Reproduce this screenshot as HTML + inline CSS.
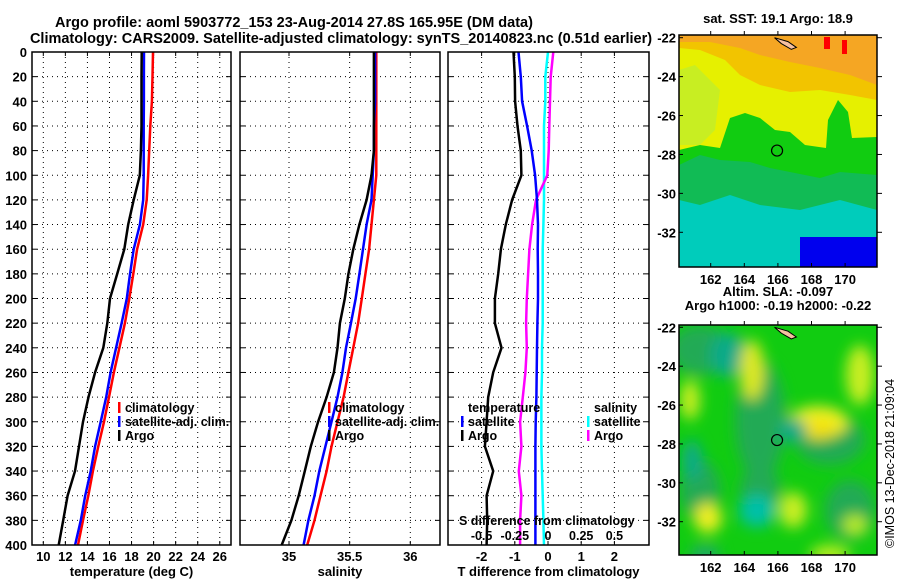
<!DOCTYPE html>
<html><head><meta charset="utf-8">
<style>
body{margin:0;background:#fff;}
svg{display:block;font-family:"Liberation Sans",Arial,sans-serif;font-weight:bold;}
</style></head>
<body>
<svg id="chart" width="900" height="580" viewBox="0 0 900 580" xmlns="http://www.w3.org/2000/svg">
<rect width="900" height="580" fill="#fff"/>
<text x="294" y="27" font-size="14.5" text-anchor="middle">Argo profile: aoml 5903772_153 23-Aug-2014 27.8S 165.95E (DM data)</text>
<text x="341" y="43" font-size="14.5" text-anchor="middle">Climatology: CARS2009. Satellite-adjusted climatology: synTS_20140823.nc (0.51d earlier)</text>
<g id="panels"></g>
<g id="maps"></g>
<text transform="translate(894,548) rotate(-90)" font-size="12.5" font-weight="normal">©IMOS 13-Dec-2018 21:09:04</text>
</svg>
<script>
const depths=[0,20,40,60,80,100,120,140,160,180,200,220,240,260,280,300,320,340,360,380,400];
const tempClim=[19.95,19.9,19.85,19.7,19.6,19.5,19.37,19.06,18.5,18.16,17.8,17.4,16.9,16.4,15.96,15.5,14.99,14.5,14.08,13.6,13.15];
const tempSat=[19.13,19.12,19.12,19.1,19.1,19.1,19.06,18.76,18.2,17.86,17.57,17.1,16.6,16.1,15.7,15.2,14.7,14.3,13.8,13.4,12.88];
const tempArgo=[18.92,18.9,18.9,18.9,18.85,18.75,18.2,17.7,17.34,16.7,16.05,15.8,15.44,14.7,14.1,13.6,13.24,12.87,12.2,11.8,11.4];
const salClim=[35.72,35.72,35.72,35.72,35.72,35.72,35.70,35.68,35.66,35.63,35.60,35.57,35.53,35.49,35.45,35.40,35.35,35.31,35.26,35.21,35.15];
const salSat=[35.71,35.71,35.71,35.70,35.70,35.69,35.68,35.64,35.61,35.58,35.55,35.51,35.47,35.44,35.40,35.35,35.30,35.25,35.21,35.16,35.12];
const salArgo=[35.70,35.70,35.70,35.70,35.70,35.68,35.64,35.58,35.53,35.49,35.46,35.42,35.40,35.37,35.31,35.24,35.18,35.13,35.08,35.02,34.94];
const dTsat=[-0.89,-0.82,-0.78,-0.63,-0.49,-0.39,-0.33,-0.3,-0.31,-0.3,-0.3,-0.32,-0.33,-0.34,-0.35,-0.37,-0.38,-0.38,-0.38,-0.38,-0.38];
const dTargo=[-1.04,-1.0,-0.99,-0.92,-0.82,-0.8,-1.08,-1.27,-1.42,-1.5,-1.6,-1.6,-1.4,-1.65,-1.8,-1.85,-1.9,-1.65,-1.85,-1.83,-1.85];
const dSsat=[0.0,-0.02,-0.02,-0.03,-0.03,-0.03,-0.03,-0.035,-0.04,-0.04,-0.04,-0.04,-0.045,-0.045,-0.05,-0.05,-0.05,-0.045,-0.04,-0.035,-0.03];
const dSargo=[0.04,0.02,0.015,0.01,0.005,-0.005,-0.09,-0.12,-0.14,-0.15,-0.16,-0.165,-0.16,-0.17,-0.19,-0.21,-0.2,-0.22,-0.2,-0.21,-0.21];
const depthTicks=[0,20,40,60,80,100,120,140,160,180,200,220,240,260,280,300,320,340,360,380,400];
const tempTicks=[10,12,14,16,18,20,22,24,26];
const salTicks=[35,35.5,36];
const salTickLabels=["35","35.5","36"];
const dTTicks=[-2,-1,0,1,2];
const dSTicks=[-0.5,-0.25,0,0.25,0.5];
const dSTickLabels=["-0.5","-0.25","0","0.25","0.5"];
const latTicks=[-22,-24,-26,-28,-30,-32];
const lonTicks=[162,164,166,168,170];

const NS="http://www.w3.org/2000/svg";
function mk(tag,attrs,parent){const e=document.createElementNS(NS,tag);for(const k in attrs)e.setAttribute(k,attrs[k]);parent.appendChild(e);return e;}
const top0=52,bot0=545;
const yD=d=>top0+(d/400)*(bot0-top0);
const panels=document.getElementById('panels');

function panel(name,x0,x1,xs,ticks,labels,title,series,showY){
  const g=mk('g',{},panels);
  
  
  ticks.forEach(t=>{const x=xs(t);
    const l=mk('line',{x1:x,x2:x,y1:top0,y2:bot0,stroke:'#000','stroke-width':1,'stroke-dasharray':'1,4'},g);
    
    
    mk('line',{x1:x,x2:x,y1:bot0,y2:bot0-4,stroke:'#000'},g);
    mk('line',{x1:x,x2:x,y1:top0,y2:top0+4,stroke:'#000'},g);
  });
  depthTicks.forEach(d=>{const y=yD(d);
    if(d>0&&d<400){const l=mk('line',{x1:x0,x2:x1,y1:y,y2:y,stroke:'#000','stroke-width':1,'stroke-dasharray':'1,4'},g);
    
    }
    mk('line',{x1:x0,x2:x0+5,y1:y,y2:y,stroke:'#000'},g);
    mk('line',{x1:x1,x2:x1-5,y1:y,y2:y,stroke:'#000'},g);
    if(showY){const t=mk('text',{x:27,y:y+5,'font-size':13,'text-anchor':'end'},g);t.textContent=d;
      
      }
  });
  series.forEach(s=>{
    const pts=depths.map((d,i)=>xs(s.v[i]).toFixed(1)+','+yD(d).toFixed(1)).join(' ');
    const p=mk('polyline',{points:pts,fill:'none',stroke:s.c,'stroke-width':2.5},g);
    
    
  });
  mk('rect',{x:x0,y:top0,width:x1-x0,height:bot0-top0,fill:'none',stroke:'#000','stroke-width':1.5},g);
  ticks.forEach((t,i)=>{const tx=mk('text',{x:xs(t),y:561,'font-size':13,'text-anchor':'middle'},g);tx.textContent=labels[i];
    
    });
  const tt=mk('text',{x:(x0+x1)/2,y:576,'font-size':13,'text-anchor':'middle'},g);tt.textContent=title;
  
  
  return g;
}
const xT=t=>43.3+(t-10)*11.03;
const xS=s=>289+(s-35)*121.3;
const xdT=t=>548+t*33.2;
const xdS=s=>548+s*132.8;
panel('temperature-panel',32,231,xT,tempTicks,tempTicks.map(String),'temperature (deg C)',
  [{v:tempClim,c:'#f00',n:'temp-climatology-line'},{v:tempSat,c:'#00f',n:'temp-satellite-line'},{v:tempArgo,c:'#000',n:'temp-argo-line'}],true);
panel('salinity-panel',240,440,xS,salTicks,salTickLabels,'salinity',
  [{v:salClim,c:'#f00',n:'sal-climatology-line'},{v:salSat,c:'#00f',n:'sal-satellite-line'},{v:salArgo,c:'#000',n:'sal-argo-line'}],false);
panel('difference-panel',448,649,xdT,dTTicks,dTTicks.map(String),'T difference from climatology',
  [{v:dSsat,c:'#0ff',n:'sdiff-satellite-line',s:1},{v:dSargo,c:'#f0f',n:'sdiff-argo-line',s:1},{v:dTsat,c:'#00f',n:'tdiff-satellite-line'},{v:dTargo,c:'#000',n:'tdiff-argo-line'}].map(s=>s.s?{v:s.v.map(v=>v*4),c:s.c,n:s.n}:s),false);

function legendItem(x,y,c,txt){
  const g=mk('g',{},panels);
  
  
  if(c) mk('rect',{x:x-7,y:y-10,width:2.5,height:11,fill:c},g);
  const t=mk('text',{x:x,y:y,'font-size':12.5},g);t.textContent=txt;
}
[[125,412,'#f00','climatology'],[125,426,'#00f','satellite-adj. clim.'],[125,440,'#000','Argo']].forEach(a=>legendItem(...a));
[[335,412,'#f00','climatology'],[335,426,'#00f','satellite-adj. clim.'],[335,440,'#000','Argo']].forEach(a=>legendItem(...a));
[[468,412,null,'temperature'],[468,426,'#00f','satellite'],[468,440,'#000','Argo'],[594,412,null,'salinity'],[594,426,'#0ff','satellite'],[594,440,'#f0f','Argo']].forEach(a=>legendItem(...a));
{const t=mk('text',{x:459,y:525,'font-size':12.5},panels);t.textContent='S difference from climatology';

}
dSTicks.forEach((s,i)=>{const t=mk('text',{x:xdS(s),y:540,'font-size':12.5,'text-anchor':'middle'},panels);t.textContent=dSTickLabels[i];

});

const maps=document.getElementById('maps');
const lonX=l=>710.7+(l-162)*16.8;
function map(name,y0,y1,latY,title1,title2,draw){
  const g=mk('g',{},maps);
  
  
  const cid=name+'-clip';
  const cp=mk('clipPath',{id:cid},g);mk('rect',{x:679,y:y0,width:198,height:y1-y0},cp);
  const inner=mk('g',{'clip-path':'url(#'+cid+')'},g);
  draw(inner);
  mk('polygon',{points:`${lonX(165.8)},${latY(-22.0)} ${lonX(166.6)},${latY(-22.2)} ${lonX(167.1)},${latY(-22.5)} ${lonX(166.8)},${latY(-22.6)} ${lonX(166.2)},${latY(-22.3)}`,fill:'#f5c0a0',stroke:'#000','stroke-width':1},inner);
  const c=mk('circle',{cx:lonX(165.95),cy:latY(-27.8),r:5.5,fill:'none',stroke:'#000','stroke-width':1.2},g);
  
  
  mk('rect',{x:679,y:y0,width:198,height:y1-y0,fill:'none',stroke:'#000','stroke-width':1.5},g);
  latTicks.forEach(l=>{const y=latY(l);mk('line',{x1:877,x2:882,y1:y,y2:y,stroke:'#000'},g);mk('line',{x1:679,x2:683,y1:y,y2:y,stroke:'#000'},g);
    const t=mk('text',{x:676,y:y+5,'font-size':13,'text-anchor':'end'},g);t.textContent=l;
    
    });
  lonTicks.forEach(l=>{const x=lonX(l);mk('line',{x1:x,x2:x,y1:y1,y2:y1-4,stroke:'#000'},g);mk('line',{x1:x,x2:x,y1:y0,y2:y0-4,stroke:'#000'},g);
    const t=mk('text',{x:x,y:y1+17,'font-size':13,'text-anchor':'middle'},g);t.textContent=l;
    
    });
  const t1=mk('text',{x:778,y:title2?y0-29:y0-12,'font-size':13,'text-anchor':'middle'},g);t1.textContent=title1;
  
  
  if(title2){const t2=mk('text',{x:778,y:y0-15,'font-size':13,'text-anchor':'middle'},g);t2.textContent=title2;
    
    }
}
const latTop=l=>37.7+(-22-l)*19.46;
map('sst-map',35,267,latTop,'sat. SST: 19.1 Argo: 18.9',null,g=>{
  mk('rect',{x:679,y:35,width:198,height:232,fill:'#00ccbb'},g);
  mk('polygon',{points:'679,35 877,35 877,210 840,200 800,210 760,205 730,195 700,205 679,200',fill:'#11bb55'},g);
  mk('polygon',{points:'679,35 877,35 877,175 840,172 820,178 790,172 770,168 750,162 720,160 700,155 679,165',fill:'#11cc11'},g);
  mk('polygon',{points:'679,35 877,35 877,137 852,138 848,112 838,100 828,120 826,148 805,145 790,132 775,130 760,118 745,113 730,118 720,148 700,145 679,150',fill:'#e6f000'},g);
  mk('polygon',{points:'679,70 695,65 720,90 715,130 700,145 679,145',fill:'#c8ee22'},g);
  mk('polygon',{points:'679,35 877,35 877,100 850,95 820,90 790,92 760,85 740,75 725,60 700,50 679,48',fill:'#f2c400'},g);
  mk('polygon',{points:'679,35 877,35 877,85 850,75 820,68 790,62 760,55 740,48 710,42 679,42',fill:'#f5a623'},g);
  mk('rect',{x:800,y:237,width:77,height:30,fill:'#0000ee'},g);
  mk('rect',{x:824,y:37,width:6,height:12,fill:'#f00'},g);
  mk('rect',{x:842,y:40,width:5,height:14,fill:'#f00'},g);
});
const latBot=l=>327.3+(-22-l)*19.44;
map('sla-map',325,555,latBot,'Altim. SLA: -0.097','Argo h1000: -0.19 h2000: -0.22',g=>{
  const f=mk('filter',{id:'blr',x:'-50%',y:'-50%',width:'200%',height:'200%'},g);
  mk('feGaussianBlur',{stdDeviation:7},f);
  mk('rect',{x:679,y:325,width:198,height:230,fill:'#11cc11'},g);
  const b=mk('g',{filter:'url(#blr)'},g);
  [[700,350,30,25,'#22aa55'],[728,355,18,22,'#11aa88'],[760,420,25,60,'#22aa55'],[830,440,35,25,'#22aa55'],[760,490,20,25,'#22aa55'],[700,490,20,30,'#22aa55'],[850,510,25,30,'#22aa55'],
   [752,370,12,30,'#dde822'],[818,422,30,16,'#eeee22'],[818,430,18,9,'#f5e000'],
   [793,430,14,12,'#11aa88'],[757,511,18,16,'#00c0a8'],[692,460,10,20,'#11aa88'],[708,518,14,15,'#eeee22'],[793,510,14,18,'#c8ee22'],
   [860,375,14,30,'#c8ee22'],[690,400,10,20,'#c8ee22'],[830,555,20,10,'#bbee22'],[855,525,12,10,'#bbee22'],[705,555,15,10,'#22aa66']].forEach(e=>
    mk('ellipse',{cx:e[0],cy:e[1],rx:e[2],ry:e[3],fill:e[4]},b));
});
</script>
</body></html>
